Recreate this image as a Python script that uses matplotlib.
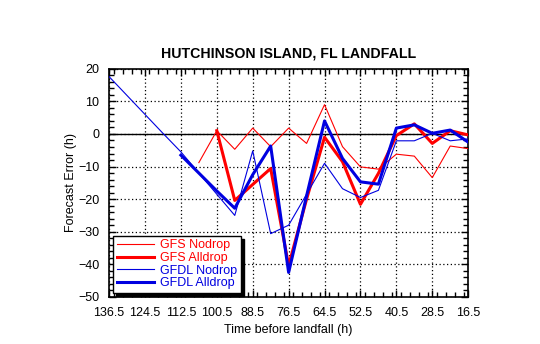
import matplotlib
matplotlib.use("Agg")
import matplotlib.pyplot as plt
from matplotlib.ticker import MultipleLocator
import numpy as np

plt.rcParams['font.family'] = ['Liberation Sans', 'DejaVu Sans']

# Godziny przed wyjściem na ląd (co 6 h)
hours = [136.5, 130.5, 124.5, 118.5, 112.5, 106.5, 100.5, 94.5, 88.5, 82.5, 76.5,
         70.5, 64.5, 58.5, 52.5, 46.5, 40.5, 34.5, 28.5, 22.5, 16.5]
nan = np.nan

gfs_nodrop = [nan, nan, nan, nan, nan, -8.8, 1.0, -4.7, 1.8, -3.9, 1.8,
              -2.9, 9.0, -3.9, -10.1, -10.8, -6.2, -6.8, -13.4, -3.7, -4.5]
gfs_alldrop = [nan, nan, nan, nan, nan, nan, 1.0, -20.4, -15.5, -10.6, -40.4,
               -20.0, -1.0, -8.5, -21.6, -12.1, -0.5, 3.1, -2.9, 1.0, -0.3]
gfdl_nodrop = [17.6, 11.8, 6.0, 0.2, -5.5, -12.0, -18.5, -25.0, -5.2, -30.6, -28.0,
               -18.5, -9.0, -16.8, -19.5, -17.3, -2.1, -2.1, 0.2, -2.1, -1.5]
gfdl_alldrop = [nan, nan, nan, nan, -6.5, -12.0, -17.5, -22.8, -12.5, -3.7, -42.5,
                -19.0, 4.0, -7.5, -14.7, -15.4, 1.8, 2.8, 0.2, 1.2, -2.5]

x_ticks = [136.5, 124.5, 112.5, 100.5, 88.5, 76.5, 64.5, 52.5, 40.5, 28.5, 16.5]
y_ticks = [-50, -40, -30, -20, -10, 0, 10, 20]

red = "#ff0000"
blue = "#0000e0"

fig = plt.figure(figsize=(5.4, 3.44), dpi=100)
ax = fig.add_axes([0.202, 0.137, 0.665, 0.663])

ax.axhline(0, color="black", linewidth=1.0, zorder=1)
ax.plot(hours, gfs_nodrop, color=red, linewidth=0.8, label="GFS Nodrop", zorder=3)
ax.plot(hours, gfs_alldrop, color=red, linewidth=2.2, label="GFS Alldrop", zorder=3)
ax.plot(hours, gfdl_nodrop, color=blue, linewidth=0.8, label="GFDL Nodrop", zorder=3)
ax.plot(hours, gfdl_alldrop, color=blue, linewidth=2.2, label="GFDL Alldrop", zorder=3)

ax.set_xlim(136.5, 16.5)
ax.set_ylim(-50, 20)
ax.set_xticks(x_ticks)
ax.set_xticklabels([f"{t:.1f}" for t in x_ticks])
ax.set_yticks(y_ticks)
ax.xaxis.set_minor_locator(MultipleLocator(3))
ax.yaxis.set_minor_locator(MultipleLocator(2))
ax.tick_params(which="both", direction="in", top=True, right=True, labelsize=9, width=1)
ax.tick_params(which="major", length=5)
ax.tick_params(which="minor", length=3.5)
ax.tick_params(axis="x", which="major", pad=7)
ax.tick_params(axis="y", which="major", pad=7)
ax.grid(which="major", linestyle=(0, (1, 2)), color="black", linewidth=0.9)
for s in ax.spines.values():
    s.set_linewidth(1.2)

ax.set_title("HUTCHINSON ISLAND, FL LANDFALL", fontsize=10.2, fontweight="bold", pad=8)
ax.set_xlabel("Time before landfall (h)", fontsize=9, labelpad=4)
ax.set_ylabel("Forecast Error (h)", fontsize=9, labelpad=1)

leg = ax.legend(loc="lower left", fontsize=9, frameon=True, fancybox=False,
                shadow={"color": "black", "alpha": 1}, edgecolor="black",
                framealpha=1, handlelength=3.0, borderpad=0.3, labelspacing=0.05,
                borderaxespad=0.3, handletextpad=0.5)
leg.get_frame().set_linewidth(1.0)
for txt, ln in zip(leg.get_texts(), leg.get_lines()):
    txt.set_color(ln.get_color())

fig.savefig("out.png", dpi=100)
